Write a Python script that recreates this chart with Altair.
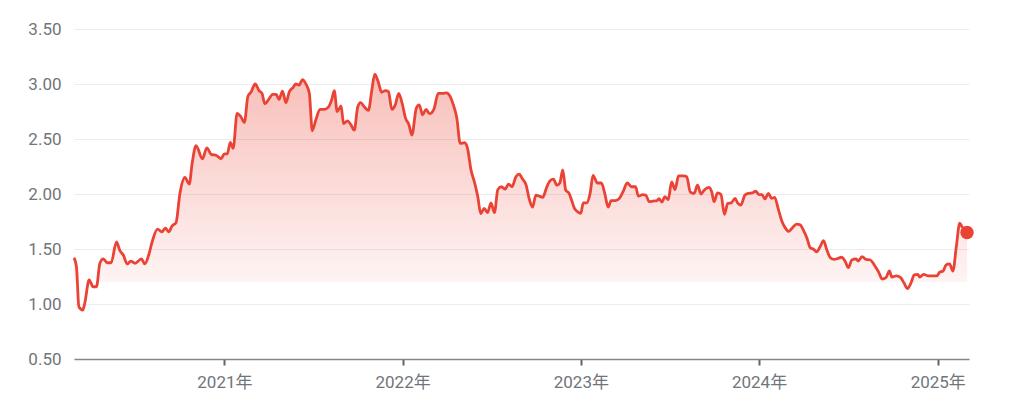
import altair as alt
import pandas as pd
from datetime import datetime, timedelta

# time of each reading, as decimal years
years = [
    2020.159, 2020.174, 2020.188, 2020.208, 2020.220, 2020.245, 2020.267, 2020.286,
    2020.305, 2020.323, 2020.346, 2020.368, 2020.398, 2020.417, 2020.435, 2020.458,
    2020.477, 2020.501, 2020.536, 2020.557, 2020.578, 2020.600, 2020.626, 2020.652,
    2020.671, 2020.690, 2020.708, 2020.731, 2020.753, 2020.781, 2020.804, 2020.821,
    2020.843, 2020.878, 2020.903, 2020.927, 2020.959, 2020.983, 2021.002, 2021.019,
    2021.035, 2021.052, 2021.073, 2021.094, 2021.114, 2021.133, 2021.151, 2021.174,
    2021.196, 2021.211, 2021.230, 2021.248, 2021.273, 2021.293, 2021.308, 2021.327,
    2021.346, 2021.365, 2021.389, 2021.402, 2021.421, 2021.439, 2021.458, 2021.477,
    2021.495, 2021.514, 2021.537, 2021.563, 2021.585, 2021.604, 2021.617, 2021.635,
    2021.655, 2021.669, 2021.692, 2021.711, 2021.729, 2021.748, 2021.767, 2021.787,
    2021.809, 2021.828, 2021.845, 2021.865, 2021.884, 2021.905, 2021.921, 2021.941,
    2021.959, 2021.980, 2021.998, 2022.017, 2022.036, 2022.054, 2022.077, 2022.095,
    2022.114, 2022.133, 2022.151, 2022.178, 2022.202, 2022.227, 2022.249, 2022.268,
    2022.286, 2022.305, 2022.324, 2022.348, 2022.367, 2022.385, 2022.404, 2022.423,
    2022.441, 2022.460, 2022.479, 2022.497, 2022.516, 2022.535, 2022.554, 2022.576,
    2022.595, 2022.614, 2022.636, 2022.655, 2022.673, 2022.694, 2022.711, 2022.729,
    2022.750, 2022.768, 2022.787, 2022.810, 2022.828, 2022.847, 2022.866, 2022.884,
    2022.901, 2022.916, 2022.935, 2022.950, 2022.965, 2022.981, 2023.001, 2023.015,
    2023.034, 2023.053, 2023.071, 2023.094, 2023.116, 2023.135, 2023.154, 2023.172,
    2023.195, 2023.217, 2023.240, 2023.262, 2023.287, 2023.307, 2023.326, 2023.348,
    2023.367, 2023.385, 2023.408, 2023.430, 2023.441, 2023.455, 2023.473, 2023.492,
    2023.511, 2023.530, 2023.548, 2023.576, 2023.595, 2023.614, 2023.636, 2023.657,
    2023.675, 2023.694, 2023.720, 2023.735, 2023.750, 2023.769, 2023.787, 2023.806,
    2023.825, 2023.844, 2023.866, 2023.881, 2023.900, 2023.922, 2023.944, 2023.963,
    2023.982, 2024.001, 2024.019, 2024.034, 2024.053, 2024.072, 2024.090, 2024.109,
    2024.131, 2024.150, 2024.169, 2024.187, 2024.212, 2024.231, 2024.249, 2024.268,
    2024.287, 2024.305, 2024.324, 2024.343, 2024.361, 2024.380, 2024.399, 2024.421,
    2024.445, 2024.464, 2024.483, 2024.501, 2024.520, 2024.545, 2024.557, 2024.577,
    2024.601, 2024.623, 2024.646, 2024.670, 2024.689, 2024.713, 2024.730, 2024.745,
    2024.769, 2024.795, 2024.814, 2024.832, 2024.851, 2024.870, 2024.888, 2024.900,
    2024.922, 2024.950, 2024.978, 2024.997, 2025.012, 2025.031, 2025.049, 2025.068,
    2025.087, 2025.105, 2025.124, 2025.137, 2025.165,
]

prices = [
    1.42, 1.34, 0.975, 0.945, 1.006, 1.218, 1.157, 1.157,
    1.37, 1.41, 1.375, 1.375, 1.564, 1.485, 1.445, 1.364,
    1.39, 1.37, 1.41, 1.364, 1.445, 1.58, 1.68, 1.655,
    1.69, 1.657, 1.71, 1.74, 2.006, 2.15, 2.09, 2.28,
    2.44, 2.32, 2.42, 2.36, 2.35, 2.32, 2.364, 2.364,
    2.47, 2.415, 2.733, 2.70, 2.65, 2.885, 2.93, 3.00,
    2.94, 2.915, 2.82, 2.855, 2.905, 2.905, 2.86, 2.936,
    2.83, 2.93, 2.97, 3.00, 2.99, 3.04, 3.00, 2.915,
    2.575, 2.67, 2.77, 2.77, 2.79, 2.86, 2.94, 2.75,
    2.80, 2.64, 2.664, 2.63, 2.58, 2.79, 2.83, 2.79,
    2.76, 2.945, 3.09, 3.02, 2.925, 2.94, 2.93, 2.77,
    2.81, 2.915, 2.825, 2.69, 2.63, 2.535, 2.78, 2.81,
    2.72, 2.77, 2.73, 2.77, 2.915, 2.915, 2.92, 2.89,
    2.81, 2.69, 2.46, 2.466, 2.415, 2.22, 2.11, 1.975,
    1.82, 1.87, 1.83, 1.92, 1.83, 2.04, 2.066, 2.045,
    2.09, 2.066, 2.157, 2.18, 2.14, 2.08, 1.96, 1.88,
    1.99, 1.98, 1.97, 2.06, 2.12, 2.135, 2.08, 2.10,
    2.22, 2.036, 2.006, 1.945, 1.87, 1.84, 1.825, 1.92,
    1.92, 2.006, 2.17, 2.10, 2.10, 2.006, 1.88, 1.94,
    1.94, 1.96, 2.027, 2.10, 2.066, 2.066, 1.98, 1.995,
    1.99, 1.93, 1.936, 1.94, 1.957, 1.927, 1.975, 1.95,
    2.11, 2.04, 2.164, 2.164, 2.157, 2.02, 2.006, 2.08,
    2.0, 2.036, 2.06, 2.02, 1.93, 2.01, 1.995, 1.815,
    1.915, 1.92, 1.96, 1.92, 1.90, 1.99, 2.006, 2.01,
    2.025, 1.995, 1.995, 1.955, 2.006, 1.96, 1.97, 1.87,
    1.75, 1.69, 1.66, 1.69, 1.727, 1.72, 1.67, 1.60,
    1.51, 1.50, 1.475, 1.52, 1.575, 1.49, 1.42, 1.405,
    1.415, 1.425, 1.39, 1.33, 1.40, 1.41, 1.39, 1.43,
    1.405, 1.40, 1.355, 1.29, 1.227, 1.24, 1.30, 1.245,
    1.255, 1.24, 1.19, 1.14, 1.19, 1.265, 1.27, 1.245,
    1.27, 1.255, 1.255, 1.255, 1.29, 1.30, 1.355, 1.364,
    1.30, 1.52, 1.734, 1.70, 1.65,
]

y_ticks = [0.5, 1.0, 1.5, 2.0, 2.5, 3.0, 3.5]
x_tick_years = [2021, 2022, 2023, 2024, 2025]
x_end_year = 2025.178
year_suffix = "年"


def to_date(y):
    yr = int(y)
    start = datetime(yr, 1, 1)
    days = (datetime(yr + 1, 1, 1) - start).days
    return (start + timedelta(days=(y - yr) * days)).strftime("%Y-%m-%d")


df = pd.DataFrame({"date": [to_date(v) for v in years], "price": prices})
last = df.tail(1)

RED = "#ea4335"
GRAY = "#70757a"
FONT = "Roboto, 'Noto Sans CJK SC', sans-serif"

x_enc = alt.X(
    "date:T",
    scale=alt.Scale(type="utc", domain=[to_date(years[0]), to_date(x_end_year)], nice=False),
    axis=alt.Axis(
        values=[alt.DateTime(year=y, month=1, date=1, utc=True) for y in x_tick_years],
        labelExpr="utcFormat(datum.value, '%Y') + '" + year_suffix + "'",
        title=None,
        grid=False,
        domainColor="#80868b",
        domainWidth=1.5,
        tickColor="#5f6368",
        tickWidth=2,
        tickSize=6,
        labelFontSize=17,
        labelColor=GRAY,
        labelFont=FONT,
        labelPadding=9,
        labelFlush=False,
    ),
)
y_scale = alt.Scale(domain=[0.5, 3.5], zero=False, nice=False)
y_enc = alt.Y(
    "price:Q",
    scale=y_scale,
    axis=alt.Axis(
        values=y_ticks,
        format=".2f",
        title=None,
        domain=False,
        ticks=False,
        grid=True,
        gridColor="#ececec",
        gridWidth=1,
        labelFontSize=17,
        labelColor=GRAY,
        labelFont=FONT,
        labelPadding=13,
    ),
)

area = alt.Chart(df).mark_area(
    interpolate="monotone",
    color=alt.Gradient(
        gradient="linear",
        x1=1, x2=1, y1=0, y2=1,
        stops=[
            alt.GradientStop(offset=0, color="rgba(234,67,53,0.34)"),
            alt.GradientStop(offset=0.73, color="rgba(234,67,53,0.06)"),
            alt.GradientStop(offset=0.732, color="rgba(234,67,53,0)"),
            alt.GradientStop(offset=1, color="rgba(234,67,53,0)"),
        ],
    ),
).encode(x=x_enc, y=y_enc, y2=alt.datum(0.5))

line = alt.Chart(df).mark_line(
    interpolate="monotone", color=RED, strokeWidth=2.8
).encode(x="date:T", y="price:Q")

dot = alt.Chart(last).mark_point(
    filled=True, color=RED, opacity=1, size=180
).encode(x="date:T", y="price:Q")

chart = (
    alt.layer(area, line, dot)
    .properties(
        width=895,
        height=330,
        autosize=alt.AutoSizeParams(type="none"),
        padding={"left": 66, "top": 21, "right": 40, "bottom": 40},
    )
    .configure_view(stroke=None)
)

chart.save("out.html", embed_options={"renderer": "svg", "actions": False})
